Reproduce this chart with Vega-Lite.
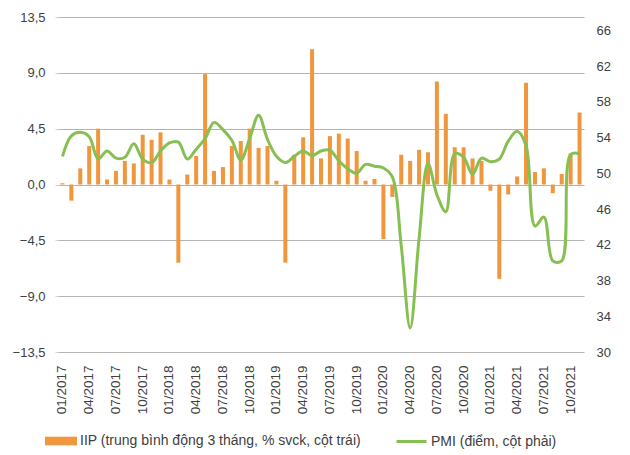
{
  "$schema": "https://vega.github.io/schema/vega-lite/v6.json",
  "width": 526,
  "height": 335,
  "autosize": "none",
  "padding": {"left": 58, "top": 17, "right": 46, "bottom": 103},
  "background": "white",
  "config": {
    "font": "Liberation Sans",
    "view": {"stroke": null},
    "axis": {"labelFont": "Liberation Sans", "labelColor": "#404040", "titleFont": "Liberation Sans"},
    "legend": {"labelFont": "Liberation Sans", "labelColor": "#404040", "labelLimit": 500}
  },
  "data": {
    "values": [
      {"month": "01/2017", "iip": 0.1, "pmi": 51.9},
      {"month": "02/2017", "iip": -1.3, "pmi": 54.2},
      {"month": "03/2017", "iip": 1.3, "pmi": 54.6},
      {"month": "04/2017", "iip": 3.1, "pmi": 54.1},
      {"month": "05/2017", "iip": 4.5, "pmi": 51.6},
      {"month": "06/2017", "iip": 0.4, "pmi": 52.5},
      {"month": "07/2017", "iip": 1.1, "pmi": 51.7},
      {"month": "08/2017", "iip": 1.9, "pmi": 51.8},
      {"month": "09/2017", "iip": 1.7, "pmi": 53.3},
      {"month": "10/2017", "iip": 4.0, "pmi": 51.6},
      {"month": "11/2017", "iip": 3.6, "pmi": 51.2},
      {"month": "12/2017", "iip": 4.2, "pmi": 52.5},
      {"month": "01/2018", "iip": 0.4, "pmi": 53.4},
      {"month": "02/2018", "iip": -6.3, "pmi": 53.5},
      {"month": "03/2018", "iip": 0.8, "pmi": 51.6},
      {"month": "04/2018", "iip": 2.3, "pmi": 52.7},
      {"month": "05/2018", "iip": 8.9, "pmi": 53.9},
      {"month": "06/2018", "iip": 1.1, "pmi": 55.7},
      {"month": "07/2018", "iip": 1.4, "pmi": 54.9},
      {"month": "08/2018", "iip": 3.1, "pmi": 53.7},
      {"month": "09/2018", "iip": 3.5, "pmi": 51.5},
      {"month": "10/2018", "iip": 4.5, "pmi": 53.9},
      {"month": "11/2018", "iip": 2.95, "pmi": 56.5},
      {"month": "12/2018", "iip": 3.1, "pmi": 53.8},
      {"month": "01/2019", "iip": 0.3, "pmi": 51.9},
      {"month": "02/2019", "iip": -6.3, "pmi": 51.2},
      {"month": "03/2019", "iip": 2.4, "pmi": 51.9},
      {"month": "04/2019", "iip": 3.8, "pmi": 52.5},
      {"month": "05/2019", "iip": 10.9, "pmi": 52.0},
      {"month": "06/2019", "iip": 2.1, "pmi": 52.5},
      {"month": "07/2019", "iip": 3.9, "pmi": 52.6},
      {"month": "08/2019", "iip": 4.1, "pmi": 51.4},
      {"month": "09/2019", "iip": 3.7, "pmi": 50.5},
      {"month": "10/2019", "iip": 2.7, "pmi": 50.0},
      {"month": "11/2019", "iip": 0.3, "pmi": 51.0},
      {"month": "12/2019", "iip": 0.45, "pmi": 50.8},
      {"month": "01/2020", "iip": -4.4, "pmi": 50.6},
      {"month": "02/2020", "iip": -1.0, "pmi": 49.6},
      {"month": "03/2020", "iip": 2.4, "pmi": 41.9},
      {"month": "04/2020", "iip": 1.9, "pmi": 32.7},
      {"month": "05/2020", "iip": 2.8, "pmi": 42.7},
      {"month": "06/2020", "iip": 2.6, "pmi": 51.1},
      {"month": "07/2020", "iip": 8.3, "pmi": 47.6},
      {"month": "08/2020", "iip": 5.7, "pmi": 45.7},
      {"month": "09/2020", "iip": 3.0, "pmi": 52.2},
      {"month": "10/2020", "iip": 3.0, "pmi": 51.8},
      {"month": "11/2020", "iip": 2.1, "pmi": 49.9},
      {"month": "12/2020", "iip": 1.9, "pmi": 51.7},
      {"month": "01/2021", "iip": -0.5, "pmi": 51.3},
      {"month": "02/2021", "iip": -7.6, "pmi": 51.6},
      {"month": "03/2021", "iip": -0.8, "pmi": 53.6},
      {"month": "04/2021", "iip": 0.65, "pmi": 54.7},
      {"month": "05/2021", "iip": 8.2, "pmi": 53.1},
      {"month": "06/2021", "iip": 1.0, "pmi": 44.1},
      {"month": "07/2021", "iip": 1.3, "pmi": 45.1},
      {"month": "08/2021", "iip": -0.7, "pmi": 40.2},
      {"month": "09/2021", "iip": 0.85, "pmi": 40.2},
      {"month": "10/2021", "iip": 2.5, "pmi": 52.1},
      {"month": "11/2021", "iip": 5.8, "pmi": 52.2}
    ]
  },
  "encoding": {
    "x": {
      "field": "month",
      "type": "ordinal",
      "sort": null,
      "scale": {"paddingInner": 0.55, "paddingOuter": 0.275},
      "axis": {
        "title": null,
        "values": ["01/2017","04/2017","07/2017","10/2017","01/2018","04/2018","07/2018","10/2018","01/2019","04/2019","07/2019","10/2019","01/2020","04/2020","07/2020","10/2020","01/2021","04/2021","07/2021","10/2021"],
        "labelAngle": -90,
        "labelFontSize": 13.5,
        "labelPadding": 13,
        "ticks": false,
        "domain": false,
        "grid": false
      }
    }
  },
  "layer": [
    {
      "mark": {"type": "bar"},
      "encoding": {
        "y": {
          "field": "iip",
          "type": "quantitative",
          "scale": {"domain": [-13.5, 13.5], "nice": false, "zero": false},
          "axis": {
            "title": null,
            "values": [-13.5, -9, -4.5, 0, 4.5, 9, 13.5],
            "labelExpr": "replace(format(datum.value, '.1f'), '.', ',')",
            "labelFontSize": 13,
            "labelPadding": 10,
            "grid": true,
            "gridColor": "#b4b4b4",
            "gridWidth": 1,
            "domain": false,
            "ticks": true,
            "tickSize": 3,
            "tickColor": "#d0d0d0"
          }
        },
        "color": {
          "datum": "IIP (trung bình động 3 tháng, % svck, cột trái)",
          "scale": {"range": ["#F0963C"]},
          "legend": {
            "title": null,
            "orient": "none",
            "legendX": -13,
            "legendY": 408,
            "symbolType": "M-1,-0.27H1V0.27H-1Z",
            "symbolSize": 1024,
            "symbolStrokeWidth": 0,
            "labelFontSize": 14,
            "labelOffset": 3,
            "labelLimit": 500
          }
        }
      }
    },
    {
      "mark": {"type": "line", "interpolate": "catmull-rom", "strokeWidth": 3},
      "encoding": {
        "y": {
          "field": "pmi",
          "type": "quantitative",
          "scale": {"domain": [30, 67.5], "nice": false, "zero": false},
          "axis": {
            "title": null,
            "orient": "right",
            "values": [30, 34, 38, 42, 46, 50, 54, 58, 62, 66],
            "labelFontSize": 13,
            "labelPadding": 12,
            "grid": false,
            "domain": false,
            "ticks": false
          }
        },
        "stroke": {
          "datum": "PMI (điểm, cột phải)",
          "scale": {"range": ["#86BF52"]},
          "legend": {
            "title": null,
            "orient": "none",
            "legendX": 337,
            "legendY": 408,
            "symbolType": "stroke",
            "symbolSize": 900,
            "symbolStrokeWidth": 3,
            "labelFontSize": 14,
            "labelOffset": 3,
            "labelLimit": 500
          }
        }
      }
    }
  ],
  "resolve": {"scale": {"y": "independent"}}
}
